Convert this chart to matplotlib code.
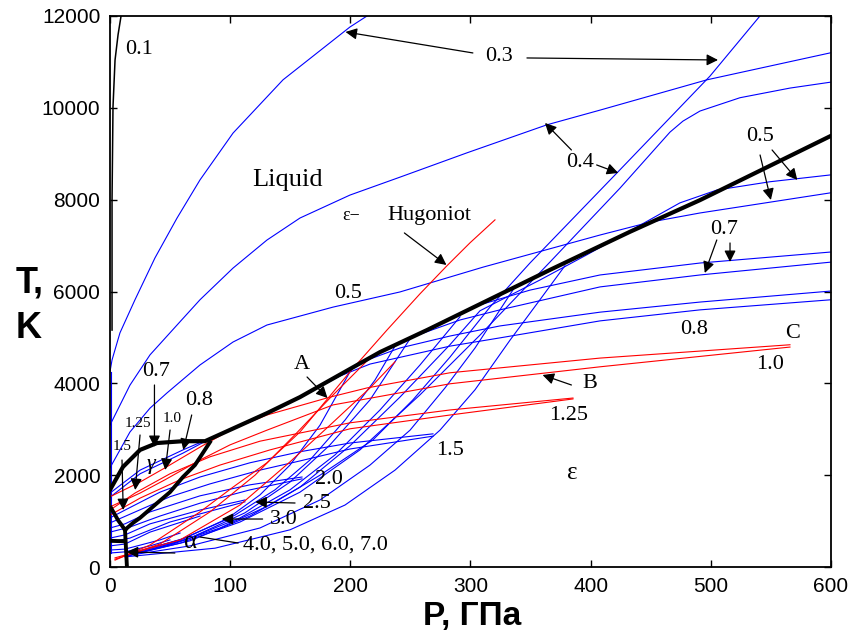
"""
P-T diagram of iron: melting curve, phase boundaries and the
Hugoniots of porous samples (numbers are the porosity parameter).
"""

import matplotlib
import matplotlib.pyplot as plt

matplotlib.use("Agg")

SERIF = ["Liberation Serif", "DejaVu Serif"]
BLUE = "#0000ff"
RED = "#ff0000"

# ---- data: pressure in GPa, temperature in K ----

# melting curve (thick black)
melt_p = [0, 10.8, 25.0, 39.1, 60.7, 79.1, 130.6, 158.1, 224.7, 263.8, 366.1, 432.7, 491.0, 600]
melt_t = [1680, 2180, 2550, 2700, 2740, 2740, 3350, 3700, 4680, 5160, 6470, 7300, 7990, 9390]

# solid phase boundaries
gamma_eps_p = [83.2, 70.7, 60.7, 49.9, 39.1, 25.0, 19.1, 12.5]
gamma_eps_t = [2720, 2220, 1960, 1630, 1390, 1070, 960, 810]
alpha_gamma_p = [0.8, 6.7, 12.5]
alpha_gamma_t = [1290, 1020, 810]
alpha_eps_p = [12.5, 14.1]
alpha_eps_t = [810, 0]
alpha_mark_p = [0.5, 12.5]
alpha_mark_t = [570, 560]

# 0.1 curve (thin black)
c01_p = [1.7, 1.7, 2.5, 4.2, 6.7, 9.2]
c01_t = [5160, 8000, 10020, 11040, 11590, 12000]

# curves rising from the left axis into the liquid
axis_p = [0.8, 0.8]
axis_t = [300, 4250]
liq03_p = [0, 1.7, 8.3, 20.8, 37.4, 55.8, 74.9, 102.4, 144.0, 199.7, 213.9]
liq03_t = [4250, 4510, 5100, 5820, 6730, 7600, 8430, 9450, 10610, 11760, 12000]
liq04_p = [0, 16.6, 33.3, 55.8, 74.9, 102.4, 130.6, 158.1, 199.7, 241.3, 297.1, 363.6, 407.8, 496.8, 600]
liq04_t = [3090, 3960, 4620, 5270, 5820, 6510, 7120, 7600, 8100, 8490, 9020, 9630, 9950, 10610, 11200]
liq05_p = [0, 16.6, 33.3, 47.4, 74.9, 102.4, 130.6, 185.6, 241.3, 310.4, 407.8, 449.4, 491.0, 600]
liq05_t = [2160, 2940, 3460, 3790, 4400, 4900, 5270, 5660, 5990, 6530, 7230, 7510, 7710, 8150]

# 0.7 and 0.8 curves (run along the melting curve, then leave it)
c07a_p = [0, 10.8, 25.0, 39.1, 60.7, 79.1, 130.6, 158.1, 224.7, 263.8, 307.9, 349.5, 407.8, 491.0, 600]
c07a_t = [1680, 2180, 2550, 2700, 2740, 2740, 3350, 3700, 4680, 5160, 5710, 6030, 6360, 6620, 6860]
c07b_p = [258.0, 291.3, 324.5, 407.8, 491.0, 600]
c07b_t = [5070, 5380, 5600, 6100, 6360, 6640]
c08a_p = [0, 25.0, 60.7, 87.4, 130.6, 158.1, 191.4, 216.4, 241.3, 282.9, 324.5, 407.8, 491.0, 600]
c08a_t = [1610, 2110, 2550, 2850, 3350, 3700, 4180, 4530, 4770, 5030, 5250, 5550, 5770, 6010]
c08b_p = [0, 25.0, 60.7, 87.4, 130.6, 158.1, 191.4, 216.4, 282.9, 324.5, 407.8, 491.0, 600]
c08b_t = [1520, 2030, 2480, 2850, 3350, 3700, 4160, 4420, 4810, 4990, 5360, 5600, 5820]

# red 1.0 and 1.25 pairs
c10a_p = [0, 25.0, 45.8, 74.9, 99.9, 130.6, 183.1, 213.9, 282.9, 407.8, 565.9]
c10a_t = [1530, 1850, 2160, 2610, 2980, 3310, 3700, 3900, 4230, 4550, 4840]
c10b_p = [0, 25.0, 45.8, 74.9, 99.9, 130.6, 185.6, 282.9, 407.8, 565.9]
c10b_t = [1310, 1610, 1900, 2330, 2660, 2980, 3530, 3990, 4360, 4790]
c125a_p = [0, 20.8, 49.9, 83.2, 124.8, 199.7, 282.9, 385.3]
c125a_t = [1240, 1610, 2030, 2400, 2740, 3140, 3420, 3680]
c125b_p = [0, 25.0, 58.3, 91.5, 133.1, 199.7, 282.9, 385.3]
c125b_t = [1130, 1500, 1900, 2220, 2550, 3010, 3310, 3660]

# blue low-temperature curves
c15a_p = [0, 12.5, 41.6, 74.9, 116.5, 158.1, 199.7, 268.8]
c15a_t = [1070, 1240, 1630, 1960, 2270, 2510, 2700, 2900]
c15b_p = [0, 16.6, 49.9, 83.2, 124.8, 158.1, 199.7, 268.8]
c15b_t = [960, 1150, 1530, 1810, 2110, 2310, 2570, 2850]
c20a_p = [0, 12.5, 33.3, 74.9, 116.5, 159.8]
c20a_t = [850, 940, 1200, 1550, 1790, 1960]
c20b_p = [0, 16.6, 41.6, 74.9, 116.5, 159.8]
c20b_t = [760, 870, 1110, 1390, 1680, 1920]
c25a_p = [0, 12.5, 33.3, 74.9, 112.3]
c25a_t = [630, 700, 940, 1240, 1460]
c25b_p = [0, 16.6, 49.9, 112.3]
c25b_t = [545, 630, 980, 1420]
c30_p = [0, 12.5, 33.3, 74.9]
c30_t = [460, 500, 760, 1110]
c40_p = [0, 12.5, 41.6, 58.3]
c40_t = [370, 390, 590, 740]
c50_p = [0, 12.5, 33.3, 49.9]
c50_t = [305, 330, 460, 590]

# steep blue Hugoniots from room temperature
s1_p = [12.5, 49.9, 91.5, 133.1, 174.8, 218.9, 252.1, 282.9, 316.2, 349.5, 424.4, 499.3, 540.9]
s1_t = [240, 480, 850, 1350, 2000, 2770, 3640, 4570, 5660, 6620, 8650, 10690, 12000]
s2_p = [12.5, 58.3, 108.2, 158.1, 208.0, 258.0, 307.9, 366.1, 424.4, 466.0, 476.8, 491.0, 524.3, 565.9, 600]
s2_t = [240, 520, 980, 1630, 2550, 3750, 5050, 6640, 8250, 9470, 9710, 9930, 10220, 10430, 10560]
s3_p = [14.1, 66.6, 116.5, 158.1, 199.7, 241.3, 282.9, 307.9, 357.8, 396.9, 432.7, 474.3, 505.1, 549.2, 600]
s3_t = [240, 570, 1110, 1740, 2640, 3700, 4840, 5580, 6250, 6800, 7320, 7930, 8210, 8390, 8540]
s4_p = [14.1, 62.4, 108.2, 149.8, 187.2, 224.7, 258.0, 291.3]
s4_t = [240, 590, 1070, 1680, 2440, 3420, 4400, 5450]
s5_p = [16.6, 66.6, 112.3, 149.8, 183.1, 216.4, 249.7]
s5_t = [260, 630, 1180, 1850, 2660, 3640, 4970]
s6_p = [16.6, 62.4, 104.0, 137.3, 166.4, 195.6, 220.5, 237.2]
s6_t = [280, 630, 1130, 1680, 2330, 3200, 4070, 4810]
s7_p = [16.6, 58.3, 95.7, 124.8, 149.8, 174.8, 201.4]
s7_t = [300, 590, 1020, 1570, 2220, 3090, 4330]
s8_p = [12.5, 66.6, 124.8, 174.8, 216.4, 249.7, 278.8, 303.8, 337.0]
s8_t = [240, 460, 850, 1460, 2220, 2980, 3900, 4770, 6100]
s9_p = [12.5, 87.4, 149.8, 195.6, 237.2, 274.6, 303.8, 332.9, 357.8, 378.6]
s9_t = [220, 410, 810, 1350, 2110, 2980, 3860, 4940, 5820, 6560]

# steep red Hugoniots (the longest one is the epsilon-Hugoniot)
eps_hug_p = [4.2, 33.3, 74.9, 102.4, 130.6, 158.1, 199.7, 230.5, 258.0, 280.4, 299.6, 320.4]
eps_hug_t = [150, 480, 1200, 1740, 2270, 2940, 4250, 5160, 5950, 6560, 7060, 7560]
r2_p = [4.2, 41.6, 83.2, 120.7, 153.9, 183.1, 214.7]
r2_t = [170, 500, 1200, 2000, 2880, 3680, 4510]
r3_p = [4.2, 58.3, 108.2, 149.8, 183.1, 216.4, 237.2]
r3_t = [200, 590, 1350, 2290, 3090, 3900, 4470]

x_ticks = [0, 100, 200, 300, 400, 500, 600]
y_ticks = [0, 2000, 4000, 6000, 8000, 10000, 12000]


def arrow(ax, tail, tip):
    """Thin black arrow with a filled head."""
    ax.annotate("", xy=tip, xytext=tail,
                arrowprops=dict(arrowstyle="-|>", color="black", lw=0.9,
                                mutation_scale=17, shrinkA=0, shrinkB=0))


def label(ax, x, y, text, size=16, **kw):
    ax.text(x, y, text, fontsize=size, family=SERIF, ha="center", va="center", **kw)


def draw_curves(ax):
    blue = [(axis_p, axis_t), (liq03_p, liq03_t), (liq04_p, liq04_t), (liq05_p, liq05_t),
            (c07a_p, c07a_t), (c07b_p, c07b_t), (c08a_p, c08a_t), (c08b_p, c08b_t),
            (c15a_p, c15a_t), (c15b_p, c15b_t), (c20a_p, c20a_t), (c20b_p, c20b_t),
            (c25a_p, c25a_t), (c25b_p, c25b_t), (c30_p, c30_t), (c40_p, c40_t),
            (c50_p, c50_t), (s1_p, s1_t), (s2_p, s2_t), (s3_p, s3_t), (s4_p, s4_t),
            (s5_p, s5_t), (s6_p, s6_t), (s7_p, s7_t), (s8_p, s8_t), (s9_p, s9_t)]
    red = [(c10a_p, c10a_t), (c10b_p, c10b_t), (c125a_p, c125a_t), (c125b_p, c125b_t),
           (eps_hug_p, eps_hug_t), (r2_p, r2_t), (r3_p, r3_t)]
    for p, t in blue:
        ax.plot(p, t, color=BLUE, lw=0.8)
    for p, t in red:
        ax.plot(p, t, color=RED, lw=0.8)

    ax.plot(c01_p, c01_t, color="black", lw=1.1)
    ax.plot(melt_p, melt_t, color="black", lw=3.0, solid_capstyle="round")
    ax.plot(gamma_eps_p, gamma_eps_t, color="black", lw=2.8)
    ax.plot(alpha_gamma_p, alpha_gamma_t, color="black", lw=2.8)
    ax.plot(alpha_eps_p, alpha_eps_t, color="black", lw=2.8)
    ax.plot(alpha_mark_p, alpha_mark_t, color="black", lw=2.8)


def draw_labels(ax):
    label(ax, 24, 11260, "0.1")
    label(ax, 324, 11108, "0.3")
    arrow(ax, (302, 11195), (196, 11652))
    arrow(ax, (347, 11086), (506, 11042))
    label(ax, 391, 8799, "0.4")
    arrow(ax, (384, 9082), (362, 9670))
    arrow(ax, (405, 8756), (423, 8581))
    label(ax, 148, 8429, "Liquid", size=19)

    ax.text(193, 7660, "ε−", fontsize=13, family=SERIF, ha="left", va="center")
    ax.text(231, 7645, "Hugoniot", fontsize=16, family=SERIF, ha="left", va="center")
    arrow(ax, (245, 7275), (280, 6578))

    label(ax, 198, 5946, "0.5")
    label(ax, 541, 9365, "0.5")
    arrow(ax, (541, 8973), (550, 7993))
    arrow(ax, (551, 9082), (572, 8429))
    label(ax, 511, 7340, "0.7")
    arrow(ax, (505, 7122), (495, 6403))
    arrow(ax, (516, 7057), (516, 6643))
    label(ax, 486, 5162, "0.8")
    label(ax, 568, 5075, "C")
    label(ax, 549, 4400, "1.0")
    label(ax, 399, 3986, "B")
    arrow(ax, (384, 3964), (360, 4182))
    label(ax, 382, 3289, "1.25")
    label(ax, 283, 2548, "1.5")
    label(ax, 385, 2047, "ε", size=18)
    label(ax, 160, 4400, "A")
    arrow(ax, (164, 4138), (181, 3681))

    # labels inside the gamma field
    label(ax, 38, 4247, "0.7")
    arrow(ax, (37, 3964), (37, 2614))
    label(ax, 74, 3637, "0.8")
    arrow(ax, (68, 3311), (61, 2548))
    label(ax, 23, 3115, "1.25", size=11)
    arrow(ax, (25, 2875), (21, 1677))
    label(ax, 52, 3245, "1.0", size=11)
    arrow(ax, (50, 2984), (46, 2113))
    label(ax, 10, 2635, "1.5", size=11)
    arrow(ax, (10, 2330), (11, 1241))
    label(ax, 34, 2243, "γ", size=16, style="italic")
    label(ax, 67, 545, "α", size=18)

    label(ax, 182, 1895, "2.0")
    label(ax, 172, 1394, "2.5")
    arrow(ax, (154, 1394), (121, 1416))
    label(ax, 145, 1024, "3.0")
    arrow(ax, (127, 1045), (93, 1045))
    ax.text(111, 479, "4.0, 5.0, 6.0, 7.0", fontsize=16, family=SERIF,
            ha="left", va="center")
    ax.plot([106.5, 75], [523, 653], color="black", lw=0.9)
    arrow(ax, (54, 305), (14, 327))


def main():
    plt.rcParams["font.family"] = ["Liberation Sans", "DejaVu Sans"]
    fig = plt.figure(figsize=(8.52, 6.42), dpi=100)
    ax = fig.add_axes([0.1291, 0.1168, 0.8462, 0.8583])

    draw_curves(ax)
    draw_labels(ax)

    ax.set_xlim(0, 600)
    ax.set_ylim(0, 12000)
    ax.set_xticks(x_ticks)
    ax.set_yticks(y_ticks)
    ax.tick_params(direction="in", top=True, right=True, length=5, width=1,
                   labelsize=15, pad=7)
    for side in ax.spines.values():
        side.set_linewidth(1.3)

    fig.text(0.554, 0.040, "P, ГПа", fontsize=24, fontweight="bold",
             ha="center", va="center")
    fig.text(0.018, 0.559, "T,", fontsize=26, fontweight="bold",
             ha="left", va="center")
    fig.text(0.018, 0.488, "K", fontsize=26, fontweight="bold",
             ha="left", va="center")

    fig.savefig("out.png", dpi=100)


if __name__ == "__main__":
    main()
